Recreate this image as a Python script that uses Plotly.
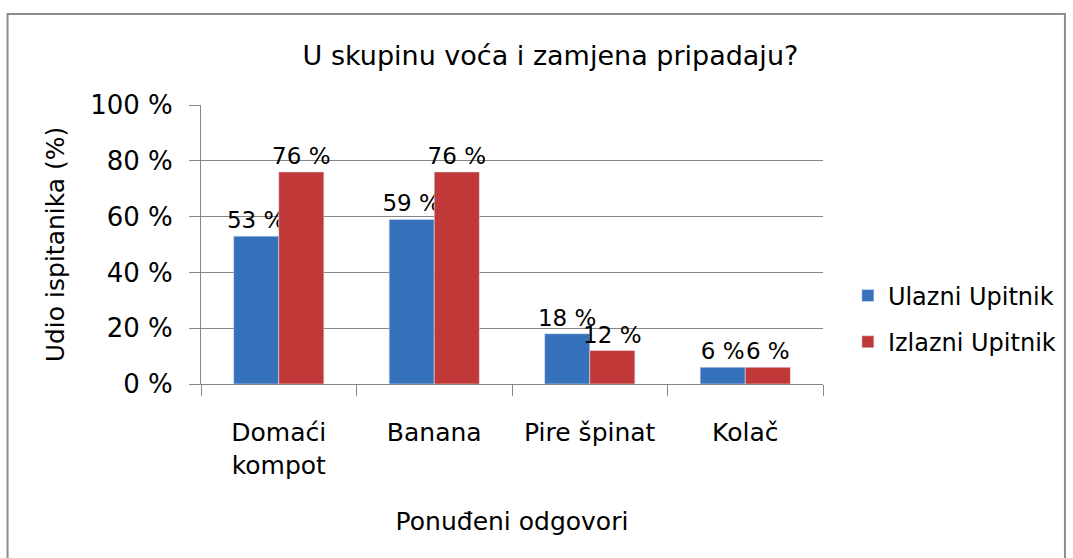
import plotly.graph_objects as go

categories = ["Domaći<br>kompot", "Banana", "Pire špinat", "Kolač"]
ulazni = [53, 59, 18, 6]
izlazni = [76, 76, 12, 6]
series_names = ["Ulazni Upitnik", "Izlazni Upitnik"]
y_ticks = [0, 20, 40, 60, 80, 100]
y_tick_labels = ["0 %", "20 %", "40 %", "60 %", "80 %", "100 %"]

FONT = "DejaVu Sans, sans-serif"

fig = go.Figure()
fig.add_trace(go.Bar(
    x=categories, y=ulazni, name=series_names[0], legendgroup="a",
    marker=dict(color="#3671BC"),
    text=[f"{v} %" for v in ulazni], textposition="outside",
    textfont=dict(size=23, color="black", family=FONT), cliponaxis=False,
))
fig.add_trace(go.Bar(
    x=categories, y=izlazni, name=series_names[1], legendgroup="b",
    marker=dict(color="#C03837"),
    text=[f"{v} %" for v in izlazni], textposition="outside",
    textfont=dict(size=23, color="black", family=FONT), cliponaxis=False,
))

fig.update_layout(
    width=1073, height=558,
    margin=dict(l=201, r=248, t=105, b=174),
    paper_bgcolor="white", plot_bgcolor="white",
    font=dict(family=FONT, size=25, color="black"),
    barmode="group", bargap=0.42, bargroupgap=0,
    uniformtext=dict(minsize=23, mode="show"),
    title=dict(text="U skupinu voća i zamjena pripadaju?", x=0.513, y=0.901,
               xanchor="center", yanchor="middle", font=dict(size=27, family=FONT)),
    legend=dict(x=1.04, y=0.233, xanchor="left", yanchor="middle",
                font=dict(size=24, family=FONT), tracegroupgap=12, itemwidth=30),
)
fig.update_yaxes(
    range=[0, 100], tickvals=y_ticks, ticktext=y_tick_labels,
    tickfont=dict(size=26, family=FONT),
    showgrid=True, gridcolor="#868686", gridwidth=1,
    showline=True, linecolor="#868686", linewidth=1,
    ticks="outside", ticklen=11, tickcolor="#868686", ticklabelstandoff=11,
    zeroline=False, fixedrange=True,
    title=dict(text="Udio ispitanika (%)", standoff=18, font=dict(size=25, family=FONT)),
)
fig.update_xaxes(
    tickfont=dict(size=25, family=FONT),
    showline=True, linecolor="#868686", linewidth=1,
    ticks="outside", ticklen=11, tickcolor="#868686", tickson="boundaries",
    ticklabelstandoff=26, showgrid=False, fixedrange=True,
    title=dict(text="Ponuđeni odgovori", standoff=33, font=dict(size=25, family=FONT)),
)
fig.add_shape(type="rect", xref="paper", yref="paper",
              x0=-0.311, x1=1.389, y0=-0.65, y1=1.326,
              line=dict(color="#8C8C8C", width=2), fillcolor="rgba(0,0,0,0)", layer="below")

fig.write_html("out.html", config={"displayModeBar": False},
               post_script="document.body.style.margin='0';")
